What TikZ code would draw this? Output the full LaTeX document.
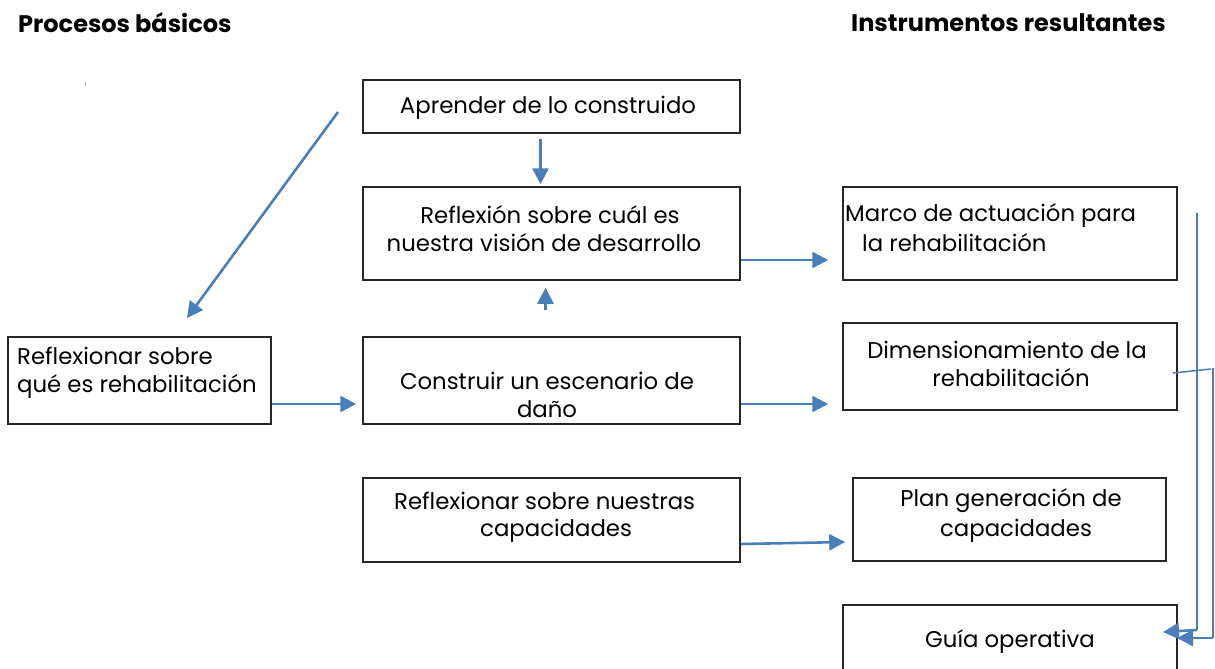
\documentclass[tikz,border=0pt]{standalone}
\usepackage{fontspec}
\setmainfont{Poppins}
\usetikzlibrary{arrows.meta}
\definecolor{arrblue}{HTML}{4A7EBB}
\definecolor{boxline}{HTML}{262626}
\tikzset{
  box/.style={draw=boxline, line width=1.5pt, rectangle, inner sep=0pt},
  txt/.style={inner sep=0pt, font=\fontsize{22.8}{26}\selectfont, text=black},
  head/.style={inner sep=0pt, font=\fontsize{24}{28}\selectfont\bfseries, text=black, anchor=west},
  arr/.style={draw=arrblue, line width=2.6pt, -{Triangle[length=16pt,width=16pt]}},
  ln/.style={draw=arrblue, line width=2pt}
}
\begin{document}
\begin{tikzpicture}[x=1pt,y=-1pt]
\useasboundingbox (0,0) rectangle (1215,669);
\begin{scope}
\clip (0,0) rectangle (1215,669);
% headings
\node[head] (h1) at (18,23) {Procesos básicos};
\node[head] (h2) at (851,23) {Instrumentos resultantes};
% boxes
\node[box, minimum width=377pt, minimum height=53pt] (b1) at (551.5,106.5) {};
\node[box, minimum width=377pt, minimum height=93pt] (b2) at (551.5,233.5) {};
\node[box, minimum width=377pt, minimum height=87pt] (b3) at (551.5,380.5) {};
\node[box, minimum width=377pt, minimum height=84pt] (b4) at (551.5,520) {};
\node[box, minimum width=263pt, minimum height=87pt] (b5) at (139.5,380.5) {};
\node[box, minimum width=334pt, minimum height=93pt] (b6) at (1010,233.5) {};
\node[box, minimum width=334pt, minimum height=87pt] (b7) at (1010,366.5) {};
\node[box, minimum width=313pt, minimum height=83pt] (b8) at (1009.5,519.5) {};
\node[box, minimum width=334pt, minimum height=80pt] (b9) at (1010,645) {};
% texts
\node[txt] (t1) at (548,108) {Aprender de lo construido};
\node[txt] (t2a) at (550,215) {Reflexión sobre cuál es};
\node[txt] (t2b) at (544,243) {nuestra visión de desarrollo};
\node[txt] (t3a) at (547,381) {Construir un escenario de};
\node[txt] (t3b) at (547,409) {daño};
\node[txt, anchor=west] (t4a) at (394,501) {Reflexionar sobre nuestras};
\node[txt, anchor=west] (t4b) at (480,531) {capacidades};
\node[txt, anchor=west] (t5a) at (17,356) {Reflexionar sobre};
\node[txt, anchor=west] (t5b) at (17,386) {qué es rehabilitación};
\node[txt, anchor=west] (t6a) at (845,215) {Marco de actuación para};
\node[txt, anchor=west] (t6b) at (862,243) {la rehabilitación};
\node[txt] (t7a) at (1007,350) {Dimensionamiento de la};
\node[txt] (t7b) at (1011,378) {rehabilitación};
\node[txt] (t8a) at (1011,501) {Plan generación de};
\node[txt] (t8b) at (1016,531) {capacidades};
\node[txt] (t9) at (1010,642) {Guía operativa};
% coordinates for free ends
\coordinate (d1) at (338,112);
\coordinate (d2) at (187,318);
\coordinate (r1a) at (1197,213);
\coordinate (r1b) at (1197,630);
\coordinate (r1c) at (1163,632);
\coordinate (r2a) at (1213,368);
\coordinate (r2b) at (1213,638);
\coordinate (r2c) at (1177,638);
\coordinate (r3a) at (1173,373);
\coordinate (r3b) at (1211,369);
\coordinate (m1) at (85,82);
\coordinate (m2) at (85,86);
% connectors
\draw[arr] ([xshift=-11pt,yshift=-5pt]b1.south) -- ([xshift=-11pt,yshift=2pt]b2.north);
\draw[arr] ([xshift=-6pt,yshift=26pt]b3.north) -- ([xshift=-6pt,yshift=-7pt]b2.south);
\draw[arr] (b5.east |- 0,404) -- ([xshift=-6pt]b3.west |- 0,404);
\draw[arr] (b2.east |- 0,260) -- ([xshift=-14pt]b6.west |- 0,260);
\draw[arr] (b3.east |- 0,404) -- ([xshift=-14pt]b7.west |- 0,404);
\draw[arr] (b4.east |- 0,544) -- ([xshift=-7pt]b8.west |- 0,542);
\draw[arr] (d1) -- (d2);
\draw[ln] (r1a) -- (r1b);
\draw[arr] (r1b) -- (r1c);
\draw[ln] (r2a) -- (r2b);
\draw[arr] (r2b) -- (r2c);
\draw[ln, line width=1.5pt] (r3a) -- (r3b);
\draw[draw=arrblue!40, line width=1pt] (m1) -- (m2);
\end{scope}
\end{tikzpicture}
\end{document}
